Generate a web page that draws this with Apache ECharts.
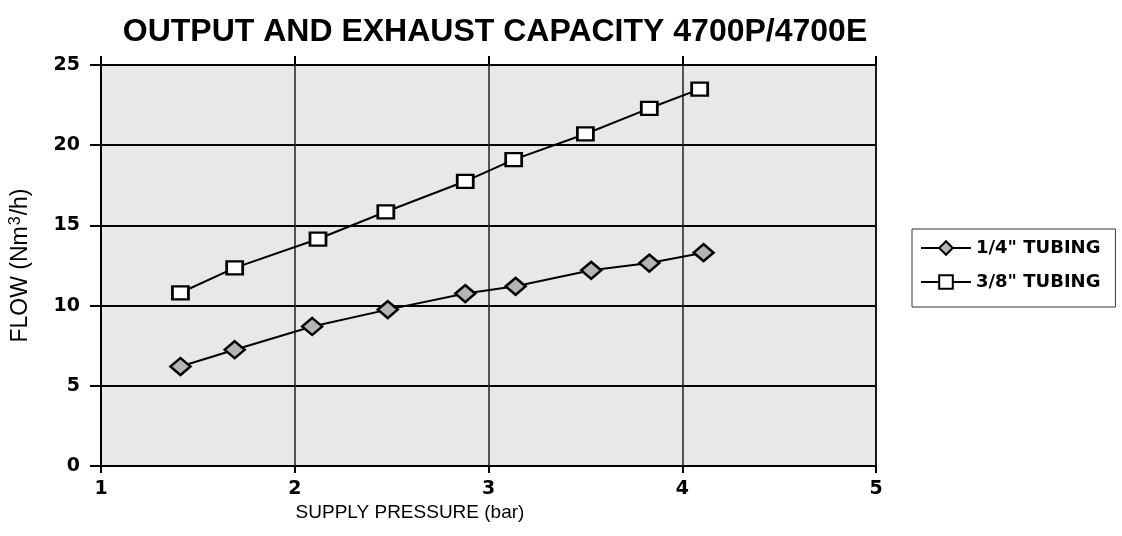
<!DOCTYPE html>
<html>
<head>
<meta charset="utf-8">
<script src="https://cdn.jsdelivr.net/npm/echarts@6/dist/echarts.min.js"></script>
<style>
  html, body { margin: 0; padding: 0; background: #fff; }
  #chart { width: 1122px; height: 536px; }
</style>
</head>
<body>
<div id="chart"></div>
<script>
// supply pressure (bar) vs flow (Nm3/h)
var pressureQuarter = [1.41, 1.69, 2.09, 2.48, 2.88, 3.14, 3.53, 3.83, 4.11];
var flowQuarter     = [6.2, 7.25, 8.7, 9.75, 10.75, 11.2, 12.2, 12.65, 13.3];
var pressureThreeEighth = [1.41, 1.69, 2.12, 2.47, 2.88, 3.13, 3.50, 3.83, 4.09];
var flowThreeEighth     = [10.8, 12.35, 14.15, 15.85, 17.75, 19.1, 20.7, 22.3, 23.5];
var seriesNames = ['1/4" TUBING', '3/8" TUBING'];

function pairs(xs, ys) {
  return xs.map(function (x, i) { return [x, ys[i]]; });
}

var tickFont = { fontFamily: 'DejaVu Sans', fontWeight: 'bold', fontSize: 19, color: '#000' };

var chart = echarts.init(document.getElementById('chart'));
var option = {
  backgroundColor: '#fff',
  animation: false,
  title: {
    text: 'OUTPUT AND EXHAUST CAPACITY 4700P/4700E',
    left: 490,
    textAlign: 'center',
    top: 11,
    textStyle: { fontFamily: 'Liberation Sans', fontWeight: 'bold', fontSize: 32, color: '#000' }
  },
  legend: {
    orient: 'vertical',
    left: 912,
    top: 229,
    padding: [10, 15, 16, 8],
    borderColor: '#333',
    borderWidth: 1,
    itemWidth: 50,
    itemHeight: 17,
    itemGap: 16,
    textStyle: { fontFamily: 'DejaVu Sans', fontWeight: 'bold', fontSize: 18, color: '#000' },
    data: seriesNames
  },
  grid: {
    left: 101,
    right: 246,
    top: 65,
    bottom: 70,
    outerBoundsMode: 'none',
    show: true,
    backgroundColor: '#e8e8e8',
    borderColor: '#000',
    borderWidth: 2
  },
  xAxis: [{
    type: 'value',
    min: 1,
    max: 5,
    interval: 1,
    axisLine: { show: true, lineStyle: { color: '#000', width: 2 } },
    axisTick: { show: true, length: 7, lineStyle: { color: '#000', width: 2 } },
    axisLabel: Object.assign({ margin: 14 }, tickFont),
    splitLine: { show: true, lineStyle: { color: '#222', width: 1.5 } }
  }, {
    type: 'value',
    position: 'top',
    min: 1,
    max: 5,
    interval: 1,
    axisLine: { show: false },
    axisTick: { show: true, length: 9, lineStyle: { color: '#000', width: 2 } },
    axisLabel: { show: false },
    splitLine: { show: false }
  }],
  yAxis: {
    type: 'value',
    min: 0,
    max: 25,
    interval: 5,
    name: 'FLOW (Nm{sup|3}/h)',
    nameLocation: 'middle',
    nameGap: 68,
    nameTextStyle: {
      fontFamily: 'Liberation Sans', fontSize: 23, color: '#000',
      rich: { sup: { fontFamily: 'Liberation Sans', fontSize: 16, color: '#000', verticalAlign: 'top', padding: [0, 1, 9, 1] } }
    },
    axisLine: { show: true, lineStyle: { color: '#000', width: 2 } },
    axisTick: { show: true, length: 11, lineStyle: { color: '#000', width: 2 } },
    axisLabel: Object.assign({ margin: 21 }, tickFont),
    splitLine: { show: true, lineStyle: { color: '#000', width: 2 } }
  },
  graphic: [{
    type: 'text',
    x: 410,
    y: 513,
    style: {
      text: 'SUPPLY PRESSURE (bar)',
      fontFamily: 'Liberation Sans',
      fontSize: 19,
      fill: '#000',
      align: 'center',
      verticalAlign: 'middle'
    }
  }],
  series: [{
    name: seriesNames[0],
    type: 'line',
    xAxisIndex: 0,
    data: pairs(pressureQuarter, flowQuarter),
    symbol: 'diamond',
    symbolSize: [20, 17],
    lineStyle: { color: '#000', width: 2 },
    itemStyle: { color: '#b4b4b4', borderColor: '#000', borderWidth: 2.5 },
    z: 3
  }, {
    name: seriesNames[1],
    type: 'line',
    xAxisIndex: 0,
    data: pairs(pressureThreeEighth, flowThreeEighth),
    symbol: 'rect',
    symbolSize: [16, 13],
    lineStyle: { color: '#000', width: 2 },
    itemStyle: { color: '#fff', borderColor: '#000', borderWidth: 2.5 },
    z: 3
  }]
};
chart.setOption(option);
</script>
</body>
</html>
